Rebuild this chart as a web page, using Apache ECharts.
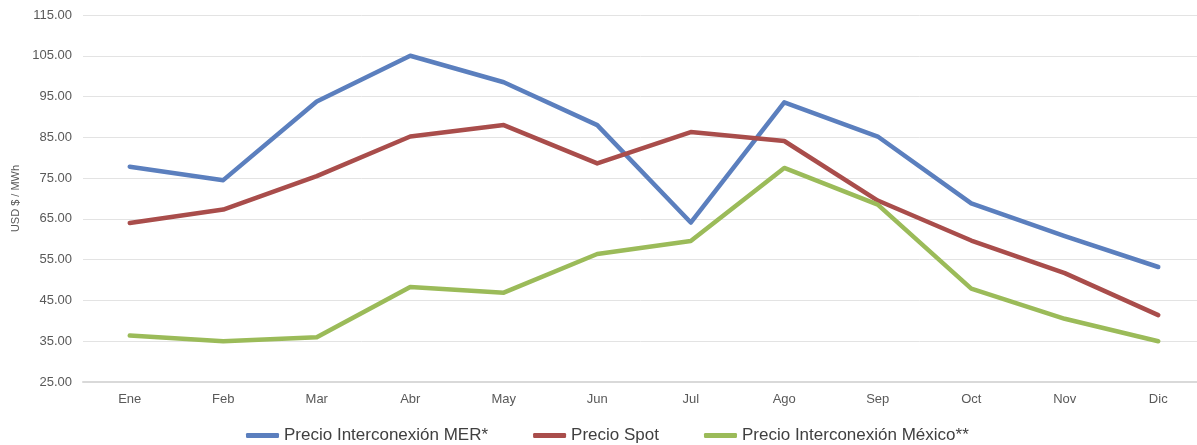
<!DOCTYPE html>
<html>
<head>
<meta charset="utf-8">
<script src="https://cdn.jsdelivr.net/npm/echarts@6/dist/echarts.min.js"></script>
<style>
html,body{margin:0;padding:0;background:#fff;}
#c{width:1197px;height:445px;}
</style>
</head>
<body>
<div id="c"></div>
<script>
var categories = ['Ene','Feb','Mar','Abr','May','Jun','Jul','Ago','Sep','Oct','Nov','Dic'];
var precioMER = [77.8, 74.5, 93.8, 105.0, 98.5, 88.0, 64.1, 93.6, 85.2, 68.8, 60.8, 53.2];
var precioSpot = [64.0, 67.3, 75.5, 85.2, 88.0, 78.6, 86.3, 84.1, 69.5, 59.7, 51.7, 41.4];
var precioMexico = [36.4, 35.0, 36.0, 48.3, 46.9, 56.4, 59.6, 77.5, 68.5, 47.9, 40.5, 35.0];
var seriesNames = ['Precio Interconexión MER*', 'Precio Spot', 'Precio Interconexión México**'];
var yAxisName = 'USD $ / MWh';

var FONT = '"Liberation Sans Narrow", "Arial Narrow", "Liberation Sans", sans-serif';
var colors = ['#5B7FBE', '#A94D4B', '#9BBB59'];

var chart = echarts.init(document.getElementById('c'), null, {renderer: 'canvas'});
function mk(name, data, color) {
  return {
    name: name, type: 'line', data: data, symbol: 'none',
    lineStyle: {width: 4.5, color: color, cap: 'round', join: 'round'},
    itemStyle: {color: color}, z: 3
  };
}
chart.setOption({
  animation: false,
  color: colors,
  grid: {left: 83, top: 15, right: -8, bottom: 63, containLabel: false, outerBoundsMode: 'none'},
  legend: {
    left: 241, top: 422,
    itemWidth: 33, itemHeight: 5, itemGap: 45,
    icon: 'roundRect',
    textStyle: {fontFamily: FONT, fontSize: 17, color: '#404040'},
    data: seriesNames
  },
  xAxis: {
    type: 'category', data: categories, boundaryGap: true,
    axisLine: {lineStyle: {color: '#D9D9D9', width: 2}},
    axisTick: {show: false},
    axisLabel: {fontFamily: FONT, fontSize: 13, color: '#595959', margin: 11}
  },
  yAxis: {
    type: 'value', min: 25, max: 115, interval: 10,
    name: yAxisName, nameLocation: 'middle', nameGap: 62, nameRotate: 90,
    nameTextStyle: {fontFamily: FONT, fontSize: 11, color: '#595959'},
    axisLine: {show: false}, axisTick: {show: false},
    axisLabel: {fontFamily: FONT, fontSize: 13, color: '#595959', margin: 11,
      formatter: function(v){ return v.toFixed(2); }},
    splitLine: {lineStyle: {color: '#E3E3E3', width: 1}}
  },
  series: [
    mk(seriesNames[0], precioMER, colors[0]),
    mk(seriesNames[1], precioSpot, colors[1]),
    mk(seriesNames[2], precioMexico, colors[2])
  ]
});
</script>
</body>
</html>
